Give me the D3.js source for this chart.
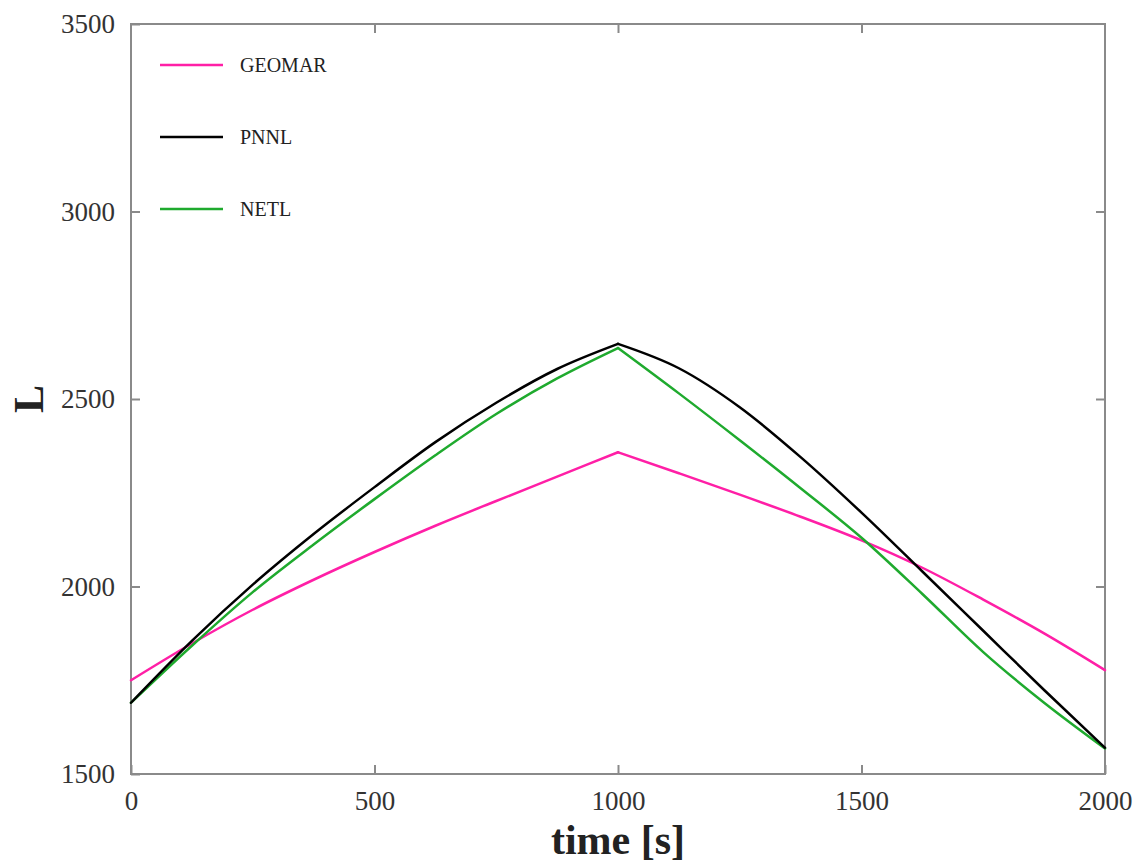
<!DOCTYPE html>
<meta charset="utf-8">
<script src="https://d3js.org/d3.v7.min.js"></script>
<style>
  body { margin: 0; background: #fff; }
  text { font-family: "Liberation Serif", "Times New Roman", serif; }
</style>
<body>
<div id="chart"></div>
<script>

// time values (s), shared by all series
var times = [0, 125, 250, 375, 500, 625, 750, 875, 1000, 1125, 1250, 1375, 1500, 1625, 1750, 1875, 2000];

// L values
var geomar = [1750, 1848, 1938, 2018, 2092, 2162, 2228, 2293, 2358, 2302, 2245, 2186, 2123, 2050, 1965, 1875, 1777];
var pnnl   = [1690, 1855, 2005, 2140, 2265, 2385, 2490, 2580, 2647, 2582, 2478, 2345, 2197, 2040, 1882, 1724, 1570];
var netl   = [1690, 1842, 1985, 2112, 2233, 2350, 2460, 2555, 2636, 2515, 2390, 2262, 2130, 1980, 1825, 1690, 1568];

var seriesNames = ["GEOMAR", "PNNL", "NETL"];
var seriesColors = ["#ff1fa6", "#000000", "#1faa2e"];

var xTicks = [0, 500, 1000, 1500, 2000];
var yTicks = [1500, 2000, 2500, 3000, 3500];

var W = 1140, H = 863;
var margin = {top: 24, right: 35, bottom: 89, left: 131};
var width = W - margin.left - margin.right,
    height = H - margin.top - margin.bottom;

var svg = d3.select("#chart").append("svg")
    .attr("width", W)
    .attr("height", H)
  .append("g")
    .attr("transform", "translate(" + margin.left + "," + margin.top + ")");

var x = d3.scaleLinear().domain([0, 2000]).range([0, width]);
var y = d3.scaleLinear().domain([1500, 3500]).range([height, 0]);

var axisColor = "#8a8a8a";

// frame
svg.append("rect")
  .attr("width", width).attr("height", height)
  .attr("fill", "none").attr("stroke", axisColor).attr("stroke-width", 2);

// inward ticks on all four sides
function styleAxis(g) {
  g.select(".domain").remove();
  g.selectAll(".tick line").attr("stroke", axisColor).attr("stroke-width", 2);
  g.selectAll(".tick text").attr("fill", "#333").style("font-size", "27px");
}

svg.append("g")
  .attr("transform", "translate(0," + height + ")")
  .call(d3.axisBottom(x).tickValues(xTicks).tickSizeInner(-9).tickPadding(17).tickFormat(d3.format("d")))
  .call(styleAxis);

svg.append("g")
  .call(d3.axisTop(x).tickValues(xTicks.slice(1, -1)).tickSizeInner(-9).tickFormat(""))
  .call(styleAxis);

svg.append("g")
  .call(d3.axisLeft(y).tickValues(yTicks).tickSizeInner(-9).tickPadding(16).tickFormat(d3.format("d")))
  .call(styleAxis);

svg.append("g")
  .attr("transform", "translate(" + width + ",0)")
  .call(d3.axisRight(y).tickValues(yTicks.slice(1, -1)).tickSizeInner(-9).tickFormat(""))
  .call(styleAxis);

// axis titles
svg.append("text")
  .attr("x", width / 2).attr("y", height + 80)
  .attr("text-anchor", "middle")
  .style("font-size", "42px").style("font-weight", "bold")
  .attr("fill", "#222")
  .text("time [s]");

svg.append("text")
  .attr("transform", "translate(-88," + (height / 2) + ") rotate(-90)")
  .attr("text-anchor", "middle")
  .style("font-size", "42px").style("font-weight", "bold")
  .attr("fill", "#222")
  .text("L");

// lines: rising and falling halves drawn separately so the peak at 1000 s stays sharp
var data = [geomar, pnnl, netl];
var peak = times.indexOf(1000);
var line = d3.line()
  .x(function(d) { return x(d[0]); })
  .y(function(d) { return y(d[1]); })
  .curve(d3.curveMonotoneX);

// pink first, then green, black on top
[0, 2, 1].forEach(function(k) {
  var pts = times.map(function(t, i) { return [t, data[k][i]]; });
  [pts.slice(0, peak + 1), pts.slice(peak)].forEach(function(part) {
    svg.append("path")
      .datum(part)
      .attr("fill", "none")
      .attr("stroke", seriesColors[k])
      .attr("stroke-width", 2.5)
      .attr("stroke-linejoin", "round")
      .attr("stroke-linecap", "round")
      .attr("d", line);
  });
});

// legend
var legend = svg.append("g").attr("transform", "translate(29,41)");
seriesNames.forEach(function(name, i) {
  var g = legend.append("g").attr("transform", "translate(0," + (i * 72) + ")");
  g.append("line")
    .attr("x1", 0).attr("x2", 63)
    .attr("stroke", seriesColors[i]).attr("stroke-width", 2.5);
  g.append("text")
    .attr("x", 80).attr("dy", "0.35em")
    .style("font-size", "20px").attr("fill", "#222")
    .text(name);
});

</script>
</body>
